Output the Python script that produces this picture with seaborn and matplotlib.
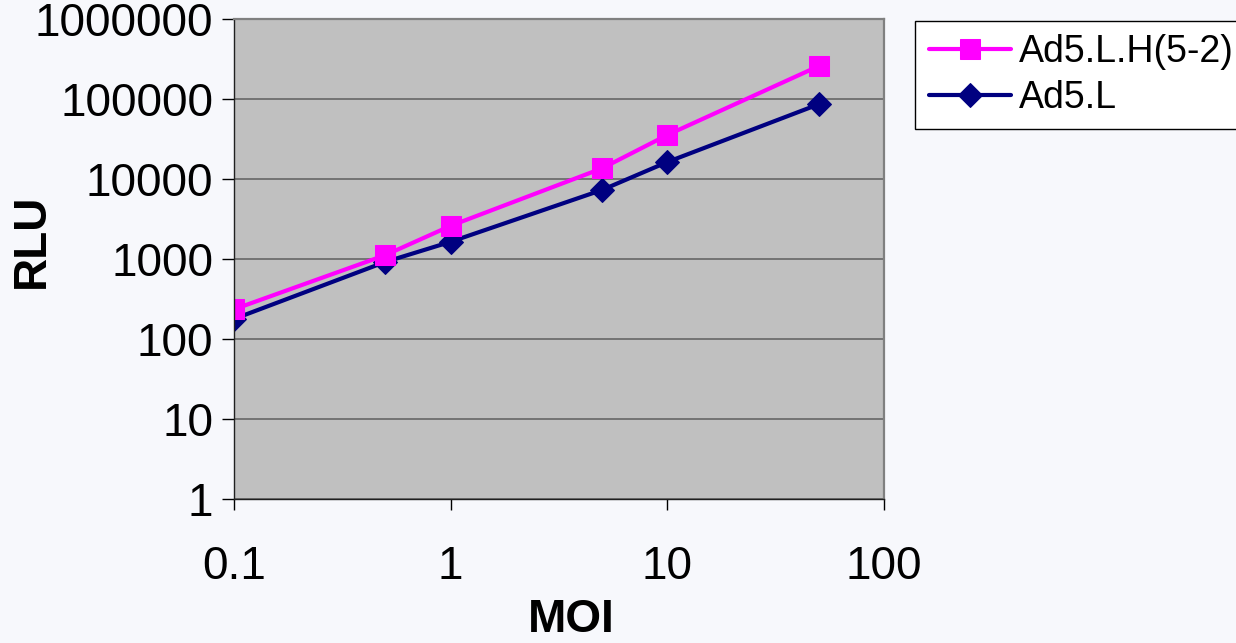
import pandas as pd
import matplotlib
matplotlib.use('Agg')
import matplotlib.pyplot as plt
import seaborn as sns

# Veriler
moi = [0.1, 0.5, 1, 5, 10, 50]
rlu_h52 = [235, 1120, 2600, 13600, 35500, 258000]
rlu_l = [178, 920, 1640, 7300, 16300, 86000]

seri_h52 = 'Ad5.L.H(5-2)'
seri_l = 'Ad5.L'

df = pd.DataFrame({
    'MOI': moi * 2,
    'RLU': rlu_h52 + rlu_l,
    'Seri': [seri_h52] * len(moi) + [seri_l] * len(moi),
})

sns.set_style("white")
plt.rcParams['font.family'] = ['Liberation Sans', 'DejaVu Sans']
plt.rcParams['text.color'] = 'black'
plt.rcParams['axes.labelcolor'] = 'black'
plt.rcParams['xtick.color'] = 'black'
plt.rcParams['ytick.color'] = 'black'

bg = '#F7F8FC'
fig = plt.figure(figsize=(12.36, 6.43), dpi=100, facecolor=bg)
ax = fig.add_axes([234 / 1236, 1 - 499 / 643, 650 / 1236, 480 / 643])
ax.set_facecolor('#C0C0C0')

# önce Ad5.L, sonra üstüne pembe seri
sns.lineplot(data=df[df['Seri'] == seri_l], x='MOI', y='RLU', ax=ax,
             color='#000080', marker='D', markersize=12, linewidth=3,
             markeredgecolor='#000080', label=seri_l)
sns.lineplot(data=df[df['Seri'] == seri_h52], x='MOI', y='RLU', ax=ax,
             color='#FF00FF', marker='s', markersize=14, linewidth=3,
             markeredgecolor='#FF00FF', label=seri_h52)

ax.set_xscale('log')
ax.set_yscale('log')
ax.set_xlim(0.1, 100)
ax.set_ylim(1, 1000000)
ax.set_xticks([0.1, 1, 10, 100])
ax.set_xticklabels(['0.1', '1', '10', '100'])
ax.set_yticks([1, 10, 100, 1000, 10000, 100000, 1000000])
ax.set_yticklabels(['1', '10', '100', '1000', '10000', '100000', '1000000'])
ax.minorticks_off()

ax.grid(axis='y', color='#5F5F5F', linewidth=1.1)
ax.grid(axis='x', visible=False)
ax.set_axisbelow(True)

ax.tick_params(axis='y', direction='out', length=9, width=1,
               labelsize=33, pad=6, left=True)
ax.tick_params(axis='x', direction='out', length=8, width=1,
               labelsize=33, pad=25, bottom=True)

for s in ['top', 'right']:
    ax.spines[s].set_color('#808080')
    ax.spines[s].set_linewidth(1.6)
for s in ['left', 'bottom']:
    ax.spines[s].set_color('#202020')
    ax.spines[s].set_linewidth(1.0)

ax.set_xlabel('MOI', fontsize=33, fontweight='bold')
ax.set_ylabel('RLU', fontsize=33, fontweight='bold')
ax.xaxis.set_label_coords((571 - 234) / 650, (499 - 620) / 480)
ax.xaxis.label.set_va('center')
ax.yaxis.set_label_coords((32 - 234) / 650, (499 - 241) / 480)
ax.yaxis.label.set_va('center')

ax.get_legend().remove()
handles, labels = ax.get_legend_handles_labels()
leg = fig.legend(handles[::-1], labels[::-1], loc='upper left',
                 bbox_to_anchor=(915 / 1236, 1 - 21 / 643),
                 fontsize=27, frameon=True, fancybox=False, framealpha=1,
                 edgecolor='black', facecolor='white', handlelength=2.2,
                 handletextpad=0.2, labelspacing=0.25, borderpad=0.36,
                 borderaxespad=0)
leg.get_frame().set_linewidth(1.0)

plt.savefig('out.png', dpi=100, facecolor=bg)
